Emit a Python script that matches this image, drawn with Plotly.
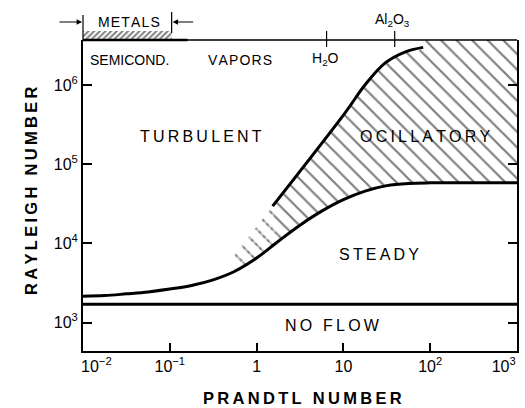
import math
import plotly.graph_objects as go

# ---------------- data ----------------
pr_lower = [0.01, 0.0178, 0.0316, 0.0562, 0.1, 0.178, 0.316, 0.562, 1.0, 1.78, 3.16,
            5.62, 10, 17.8, 31.6, 56.2, 100, 1000]
ra_lower = [2150, 2190, 2306, 2440, 2652, 2944, 3467, 4452, 6537, 10660, 16990,
            25540, 35680, 45710, 53640, 57200, 58210, 58210]

pr_upper = [1.53, 10.4, 17.7, 30.1, 51, 83]
ra_upper = [29600, 443000, 1000000, 1890000, 2610000, 2990000]

pr_dash_left = 0.562        # left end of the dashed (uncertain) part
ra_dash_left = 7250

ra_critical = 1708          # NO FLOW boundary
pr_metals = [0.01, 0.105]   # metals bracket
pr_h2o = 6.4
pr_al2o3 = 39

x_tickvals = [0.01, 0.1, 1, 10, 100, 1000]
x_ticktext = ["\u00a0" * 6 + "10<sup>\u22122</sup>", "10<sup>\u22121</sup>", "1", "10",
              "10<sup>2</sup>", "10<sup>3</sup>" + "\u00a0" * 6]
y_tickvals = [1e3, 1e4, 1e5, 1e6]
y_ticktext = ["10<sup>3</sup>", "10<sup>4</sup>", "10<sup>5</sup>", "10<sup>6</sup>"]

x_log_range = [-2, 3]
y_log_range = [2.641, 6.569]

# ---------------- layout helpers ----------------
W, H = 525, 408
ML, MR, MT, MB = 83, 8, 25, 57
PH = H - MT - MB
main_top = (H - MB - 40) / PH
band_top = (H - MB - 31) / PH

def xd(pr):
    return (math.log10(pr) - x_log_range[0]) / (x_log_range[1] - x_log_range[0])

def yd(ra):
    return (math.log10(ra) - y_log_range[0]) / (y_log_range[1] - y_log_range[0]) * main_top

def py(ypx):
    return (H - MB - ypx) / PH

def spaced(s, sep="\u2009"):
    return sep.join(s)

FONT = "Liberation Sans, Arial, Helvetica, sans-serif"
ra_top_far = 1e9

# split of the lower boundary between the dashed part and the oscillatory part
i_join = next(i for i, p in enumerate(pr_lower) if p > pr_upper[0])
i_dash = next(i for i, p in enumerate(pr_lower) if p >= pr_dash_left)

fig = go.Figure()

# oscillatory hatched region
osc_x = pr_lower[i_join:] + [1e4, 1e4, pr_upper[-1]] + pr_upper[::-1]
osc_y = ra_lower[i_join:] + [ra_lower[-1], ra_top_far, ra_top_far] + ra_upper[::-1]
fig.add_trace(go.Scatter(x=osc_x, y=osc_y, fill="toself", mode="lines",
                         line=dict(width=0, shape="spline", smoothing=1.0),
                         fillcolor="rgba(0,0,0,0)",
                         fillpattern=dict(shape="\\", size=11, solidity=0.2,
                                          fgcolor="black", bgcolor="rgba(0,0,0,0)"),
                         hoverinfo="skip"))

# dashed uncertain region: hatch, then broken by white cross-hatch
dash_x = pr_lower[i_dash:i_join + 1] + [pr_upper[0], pr_dash_left]
dash_y = ra_lower[i_dash:i_join + 1] + [ra_upper[0], ra_dash_left]
fig.add_trace(go.Scatter(x=dash_x, y=dash_y, fill="toself", mode="lines",
                         line=dict(width=0), fillcolor="rgba(0,0,0,0)",
                         fillpattern=dict(shape="\\", size=11, solidity=0.2,
                                          fgcolor="black", bgcolor="rgba(0,0,0,0)"),
                         hoverinfo="skip"))
fig.add_trace(go.Scatter(x=dash_x, y=dash_y, fill="toself", mode="lines",
                         line=dict(width=0), fillcolor="rgba(0,0,0,0)",
                         fillpattern=dict(shape="/", size=6, solidity=0.5,
                                          fgcolor="white", bgcolor="rgba(0,0,0,0)"),
                         hoverinfo="skip"))

# curves
fig.add_trace(go.Scatter(x=pr_lower, y=ra_lower, mode="lines",
                         line=dict(color="black", width=3, shape="spline", smoothing=1.0),
                         hoverinfo="skip"))
fig.add_trace(go.Scatter(x=pr_upper, y=ra_upper, mode="lines",
                         line=dict(color="black", width=3, shape="spline", smoothing=1.0),
                         hoverinfo="skip"))
fig.add_trace(go.Scatter(x=[x_tickvals[0], x_tickvals[-1]], y=[ra_critical, ra_critical],
                         mode="lines", line=dict(color="black", width=3), hoverinfo="skip"))

# metals hatched band (above the frame)
fig.add_trace(go.Scatter(x=[pr_metals[0], pr_metals[1], pr_metals[1], pr_metals[0]],
                         y=[0, 0, 1, 1], xaxis="x", yaxis="y2", fill="toself", mode="lines",
                         line=dict(width=0), fillcolor="rgba(0,0,0,0)",
                         fillpattern=dict(shape="/", size=4, solidity=0.5,
                                          fgcolor="black", bgcolor="rgba(0,0,0,0)"),
                         hoverinfo="skip"))

# invisible trace to carry the right-hand (mirrored) axis
fig.add_trace(go.Scatter(x=[x_tickvals[0]], y=[ra_critical], xaxis="x", yaxis="y3",
                         mode="markers", marker=dict(opacity=0), hoverinfo="skip"))

shapes = []
# top frame line
shapes.append(dict(type="line", xref="x domain", yref="paper", x0=0, x1=1,
                   y0=main_top, y1=main_top, line=dict(color="black", width=1.5)))
shapes.append(dict(type="line", xref="x domain", yref="paper", x0=0, x1=xd(0.16),
                   y0=main_top, y1=main_top, line=dict(color="black", width=2.5)))
# metals bracket verticals
shapes.append(dict(type="line", xref="x domain", yref="paper", x0=xd(pr_metals[0]), x1=xd(pr_metals[0]),
                   y0=py(15), y1=py(40), line=dict(color="black", width=1.2)))
shapes.append(dict(type="line", xref="x domain", yref="paper", x0=xd(pr_metals[1]), x1=xd(pr_metals[1]),
                   y0=py(12), y1=py(33), line=dict(color="black", width=1.2)))
# H2O and Al2O3 ticks
for p in (pr_h2o, pr_al2o3):
    shapes.append(dict(type="line", xref="x domain", yref="paper", x0=xd(p), x1=xd(p),
                       y0=py(31), y1=py(47), line=dict(color="black", width=1.2)))

ann = []
def label(text, x, y, size=16, **kw):
    d = dict(text=text, x=x, y=y, xref="x domain", yref="paper", showarrow=False,
             font=dict(family=FONT, size=size, color="black"), xanchor="center", yanchor="middle")
    d.update(kw)
    ann.append(d)

label(spaced("TURBULENT"), xd(0.229), yd(226000))
label(spaced("OCILLATORY"), xd(88.5), yd(224000))
label(spaced("STEADY"), xd(25.7), yd(7330))
label(spaced("NO FLOW"), xd(7.5), yd(912))

label(spaced("METALS", "\u200a"), xd(0.034), py(22), size=14)
label("SEMICOND.", xd(0.034), py(60), size=14)
label(spaced("VAPORS", "\u200a"), xd(0.644), py(60), size=14)
label("H<sub>2</sub>O", xd(6.3), py(59), size=14)
label("Al<sub>2</sub>O<sub>3</sub>", xd(37), py(20), size=14)

# arrows of the metals bracket
ann.append(dict(text="", x=xd(pr_metals[0]) - 1 / 434, y=py(22), xref="x domain", yref="paper",
                showarrow=True, ax=-24, ay=0, arrowhead=2, arrowsize=0.9, arrowwidth=1.2,
                arrowcolor="black"))
ann.append(dict(text="", x=xd(pr_metals[1]) + 1 / 434, y=py(22), xref="x domain", yref="paper",
                showarrow=True, ax=22, ay=0, arrowhead=2, arrowsize=0.9, arrowwidth=1.2,
                arrowcolor="black"))

# axis titles
ann.append(dict(text="<b>" + spaced("PRANDTL") + "\u2009 \u2009" + spaced("NUMBER") + "</b>",
                x=(302.5 - ML) / (W - ML - MR), y=py(397.5), xref="paper", yref="paper",
                showarrow=False, font=dict(family=FONT, size=16.5, color="black"),
                xanchor="center", yanchor="middle"))
ann.append(dict(text="<b>" + spaced("RAYLEIGH") + "\u2009 \u2009" + spaced("NUMBER") + "</b>",
                x=(31 - ML) / (W - ML - MR), y=py(191), xref="paper", yref="paper",
                showarrow=False, textangle=-90, font=dict(family=FONT, size=16.5, color="black"),
                xanchor="center", yanchor="middle"))

fig.update_layout(
    width=W, height=H, margin=dict(l=ML, r=MR, t=MT, b=MB, autoexpand=False),
    paper_bgcolor="white", plot_bgcolor="white", showlegend=False, hovermode=False,
    font=dict(family=FONT, size=16, color="black"),
    xaxis=dict(type="log", range=x_log_range, tickvals=x_tickvals, ticktext=x_ticktext,
               ticks="inside", ticklen=8, tickwidth=1.5, tickcolor="black",
               showline=True, linewidth=2, linecolor="black", mirror=False,
               showgrid=False, zeroline=False, anchor="y", ticklabeloverflow="allow",
               automargin=False, tickfont=dict(family=FONT, size=16, color="black")),
    yaxis=dict(type="log", range=y_log_range, tickvals=y_tickvals, ticktext=y_ticktext,
               ticks="inside", ticklen=9, tickwidth=1.5, tickcolor="black",
               showline=True, linewidth=2, linecolor="black", mirror=False,
               showgrid=False, zeroline=False, domain=[0, main_top], anchor="x",
               automargin=False, tickfont=dict(family=FONT, size=16, color="black")),
    yaxis2=dict(range=[0, 1], domain=[main_top, band_top], visible=False, anchor="x",
                showgrid=False, zeroline=False, fixedrange=True, automargin=False),
    yaxis3=dict(type="log", range=y_log_range, tickvals=y_tickvals, overlaying="y",
                side="right", anchor="x", ticks="inside", ticklen=9, tickwidth=1.5,
                tickcolor="black", showticklabels=False, showline=True, linewidth=2,
                linecolor="black", showgrid=False, zeroline=False, automargin=False),
    shapes=shapes, annotations=ann,
)

fig.write_html("out.html", config={"displayModeBar": False},
               post_script="document.body.style.margin='0';document.body.style.overflow='hidden';")
